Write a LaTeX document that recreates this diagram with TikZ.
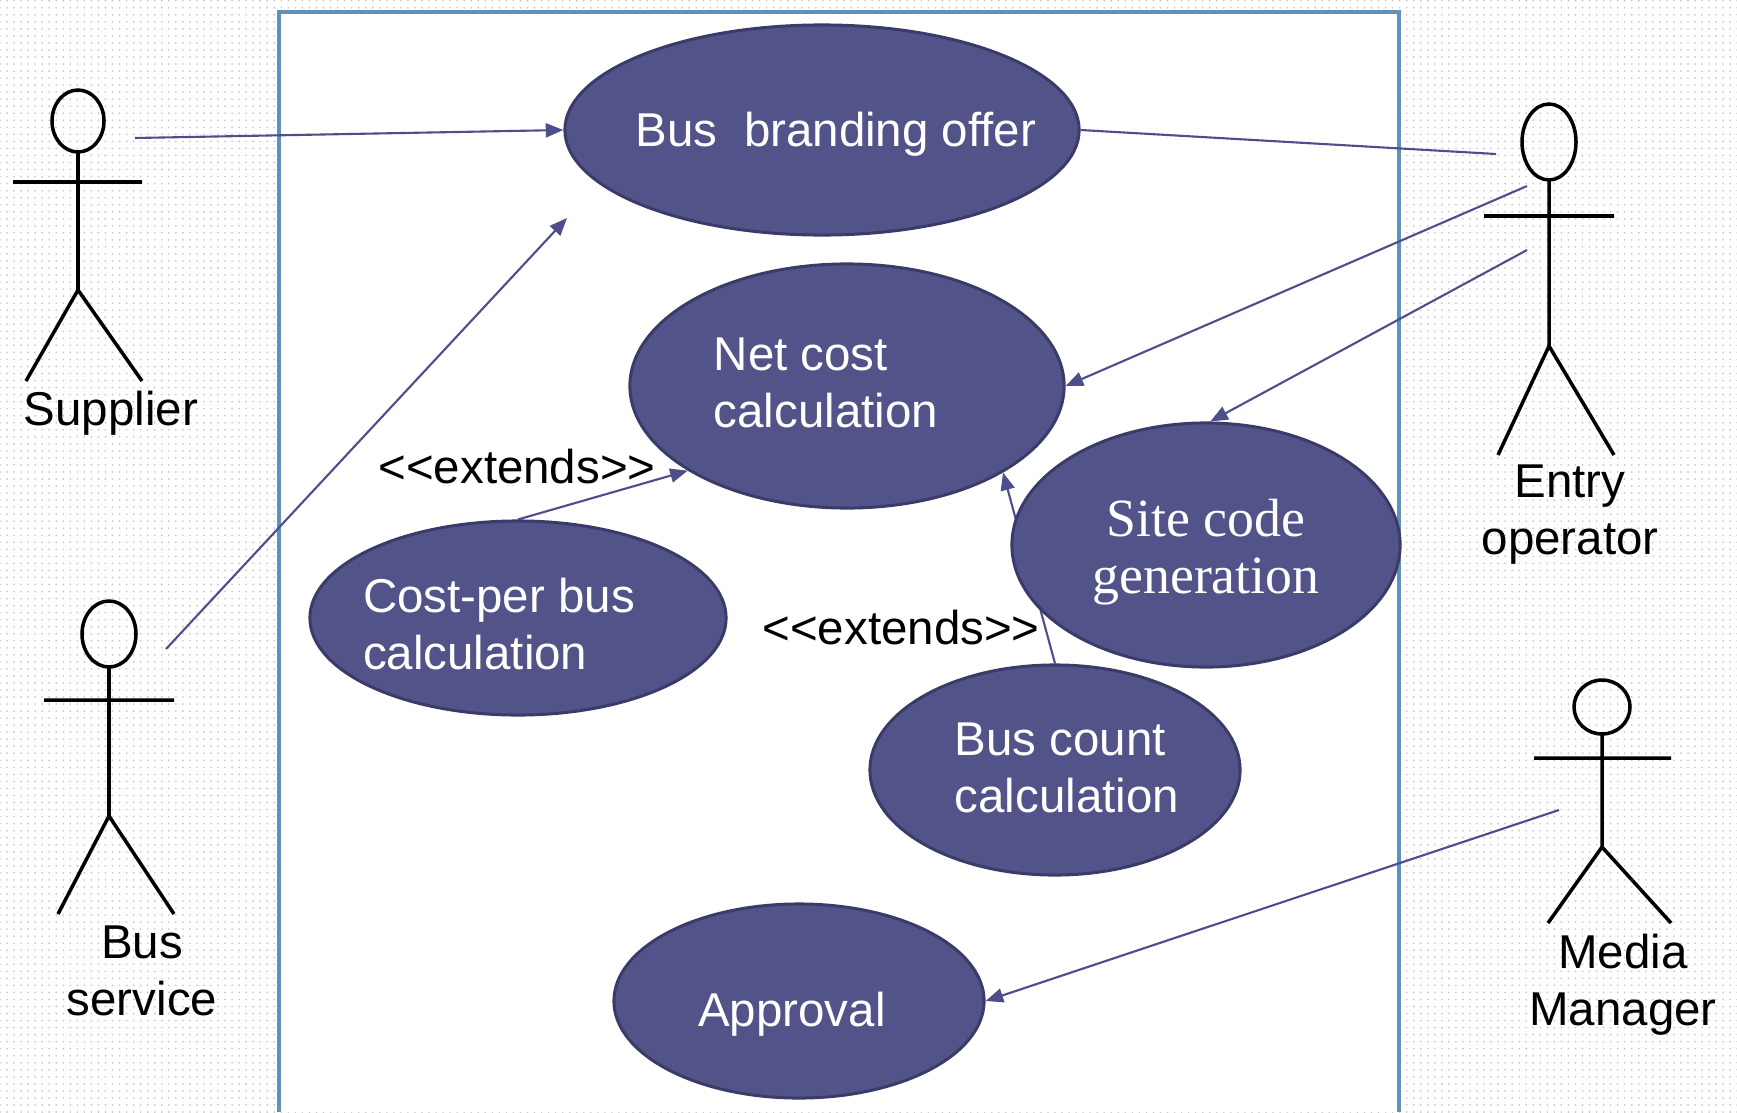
\documentclass[tikz,border=0pt]{standalone}
\usepackage{fontspec}
\setmainfont{Liberation Sans}
\newfontfamily\serifcase{Liberation Serif}
\usepackage{xcolor}
\usetikzlibrary{arrows.meta, shapes.geometric, positioning, backgrounds, patterns.meta}
\definecolor{ucfill}{RGB}{82,83,136}
\definecolor{ucborder}{RGB}{58,59,104}
\definecolor{linkblue}{RGB}{78,79,138}
\definecolor{frameblue}{RGB}{94,146,186}
\pgfdeclarelayer{back}
\pgfsetlayers{back,background,main}
\newcommand{\ucfont}{\fontsize{13.5}{16.2}\selectfont}
\newcommand{\scfont}{\serifcase\fontsize{15.3}{16.2}\selectfont}
\newcommand{\extends}{<\kern0pt<extends>\kern0pt>}
\tikzset{
  usecase/.style={ellipse, draw=ucborder, fill=ucfill, line width=0.85pt, inner sep=0pt},
  uctext/.style={text=white, font=\ucfont, align=left},
  lbl/.style={font=\ucfont, align=center, inner sep=0pt},
  pto/.style={-{Triangle[length=5pt,width=4pt]}, linkblue, line width=0.6pt},
  link/.style={-, linkblue, line width=0.6pt},
  stick/.style={line width=1pt, black},
  frameline/.style={frameblue, line width=1.1pt}
}

\begin{document}
\begin{tikzpicture}[x=0.01cm, y=-0.01cm]
    \useasboundingbox (0,0) rectangle (1737,1112);
    \begin{pgfonlayer}{back}
      \fill[pattern={Dots[radius=0.3pt,distance=2pt]}, pattern color=gray!40] (0,0) rectangle (1737,1112);
      \fill[white] (279,12) rectangle (1399,1112);
      \draw[frameline] (279,1112) |- (1399,12) -- (1399,1112);
    \end{pgfonlayer}

    \node[usecase, minimum width=5.14cm, minimum height=2.10cm,
      label={[uctext, xshift=0.14cm, yshift=-0.04cm]center:Bus\ \ branding offer}] (offer) at (822,130) {};
    \node[usecase, minimum width=4.34cm, minimum height=2.44cm,
      label={[uctext, xshift=-0.21cm, yshift=0.03cm]center:Net cost\\calculation}] (netcost) at (847,386) {};
    \node[usecase, minimum width=3.88cm, minimum height=2.44cm,
      label={[uctext, font=\scfont, align=center, yshift=-0.07cm]center:Site code\\generation}] (sitecode) at (1206,545) {};
    \node[usecase, minimum width=4.16cm, minimum height=1.94cm,
      label={[uctext, xshift=-0.19cm, yshift=-0.06cm]center:Cost-per bus\\calculation}] (costbus) at (518,618) {};
    \node[usecase, minimum width=3.70cm, minimum height=2.10cm,
      label={[uctext, xshift=0.12cm, yshift=0.02cm]center:Bus count\\calculation}] (buscount) at (1055,770) {};
    \node[usecase, minimum width=3.70cm, minimum height=1.94cm,
      label={[uctext, xshift=-0.07cm, yshift=-0.13cm]center:Approval}] (approval) at (799,1001) {};

    \node[lbl] (ext_cost) at (517,467) {\extends};
    \node[lbl] (ext_count) at (901,628) {\extends};

    % actors
    \draw[stick] (78,121) ellipse (26 and 31);
    \draw[stick] (78,152) -- (78,290) (13,182) -- (142,182) (26,381) -- (78,290) -- (142,381);
    \node[lbl] (supplier) at (111,413) {Supplier};

    \draw[stick] (109,634) ellipse (27 and 33);
    \draw[stick] (109,667) -- (109,816) (44,700) -- (174,700) (58,914) -- (109,816) -- (174,914);
    \node[lbl] (busservice) at (142,971) {Bus\\service};

    \draw[stick] (1549,142) ellipse (27 and 38);
    \draw[stick] (1549,180) -- (1549,346) (1484,216) -- (1614,216) (1498,455) -- (1549,346) -- (1614,455);
    \node[lbl] (entry) at (1570,515) {Entry\\operator};

    \draw[stick] (1602,707) ellipse (28 and 27);
    \draw[stick] (1602,734) -- (1602,847) (1534,758) -- (1671,758) (1548,923) -- (1602,847) -- (1671,923);
    \node[lbl] (media) at (1623,985) {Media\\Manager};

    \coordinate (sup_hand) at (135,138);
    \coordinate (bus_hand) at (166,649);
    \coordinate (bus_tip) at (567,218);
    \coordinate (entry_a) at (1496,154);
    \coordinate (entry_b) at (1527,186);
    \coordinate (entry_c) at (1527,250);
    \coordinate (media_hand) at (1559,810);

    \begin{pgfonlayer}{background}
      \draw[pto] (sup_hand) -- (offer.west);
      \draw[pto] (bus_hand) -- (bus_tip);
      \draw[link] (offer.east) -- (entry_a);
      \draw[pto] (entry_b) -- (netcost.east);
      \draw[pto] (entry_c) -- (sitecode.88);
      \draw[pto] (costbus.north) -- (netcost.208);
      \draw[pto] (buscount.north) -- (netcost.331);
      \draw[pto] (media_hand) -- (approval.east);
    \end{pgfonlayer}
\end{tikzpicture}
\end{document}
